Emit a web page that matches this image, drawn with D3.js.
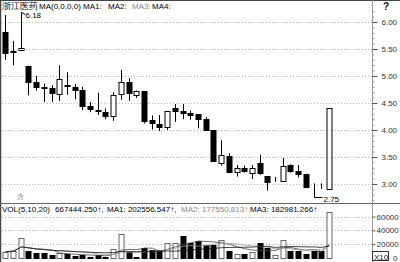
<!DOCTYPE html>
<html>
<head>
<meta charset="utf-8">
<script src="https://cdn.jsdelivr.net/npm/d3@7"></script>
<style>
  html, body { margin: 0; padding: 0; background: #fff; }
  svg { display: block; }
  text { font-family: "Liberation Sans", Arial, sans-serif; }
</style>
</head>
<body>
<script>
// daily prices
let opens  = [5.82, 5.47, 5.48, 5.19, 4.88, 4.80, 4.78, 4.66, 4.83, 4.79, 4.74, 4.44, 4.37, 4.34, 4.25, 4.66, 4.88, 4.66, 4.72, 4.19, 4.12, 4.06,
              4.40, 4.35, 4.32, 4.29, 4.20, 4.00, 3.40, 3.52, 3.22, 3.29, 3.20, 3.38, 3.15, 3.07, 3.06, 3.35, 3.25, 3.19, 2.96, 2.96, 2.90]
let highs  = [6.13, 5.65, 6.18, 5.19, 5.00, 4.86, 4.83, 5.20, 5.07, 4.85, 4.80, 4.52, 4.69, 4.40, 4.70, 5.11, 4.96, 4.73, 4.72, 4.27, 4.28, 4.35,
              4.48, 4.48, 4.36, 4.29, 4.24, 4.00, 3.81, 3.57, 3.35, 3.34, 3.35, 3.54, 3.15, 3.13, 3.48, 3.36, 3.35, 3.19, 3.01, 3.01, 4.40]
let lows   = [5.30, 5.20, 5.47, 4.64, 4.73, 4.52, 4.52, 4.54, 4.65, 4.57, 4.37, 4.33, 4.28, 4.20, 4.17, 4.56, 4.54, 4.59, 4.12, 4.01, 3.98, 4.00,
              4.15, 4.20, 4.19, 4.03, 4.00, 3.42, 3.34, 3.20, 3.14, 3.21, 3.09, 3.17, 2.88, 3.04, 3.06, 3.21, 3.12, 2.95, 2.75, 2.91, 2.90]
let closes = [5.44, 5.46, 5.51, 4.89, 4.79, 4.79, 4.68, 4.94, 4.82, 4.73, 4.44, 4.38, 4.36, 4.26, 4.64, 4.88, 4.68, 4.73, 4.17, 4.14, 4.07, 4.35,
              4.35, 4.31, 4.29, 4.20, 4.00, 3.42, 3.54, 3.23, 3.29, 3.24, 3.29, 3.19, 3.04, 3.07, 3.34, 3.23, 3.19, 2.95, 2.96, 2.96, 4.40]

// volume in axis units (x10)
let volumes = [9100, 10600, 28500, 10600, 6800, 6800, 4800, 6800, 5800, 2500, 4300, 1900, 4800, 1900, 13000, 34700, 8200, 1900, 14000, 12000, 12000, 21700,
               21700, 32200, 21700, 25000, 18800, 18800, 26500, 10600, 5800, 5800, 9100, 21700, 14000, 4000, 26500, 10000, 9600, 6000, 9500, 9400, 66744]
// 1 = hollow volume bar
let volUp = [1, 1, 1, 0, 0, 0, 0, 1, 0, 0, 0, 0, 0, 0, 1, 1, 0, 0, 0, 0, 0, 1,
             1, 0, 0, 0, 0, 0, 1, 0, 1, 0, 1, 0, 0, 1, 1, 0, 0, 0, 0, 0, 1]

let priceTicks = [3.0, 3.5, 4.0, 4.5, 5.0, 5.5, 6.0]
let volTicks = [20000, 40000, 60000]
let maPeriods = [5, 10, 20]
let maColors = ['#444', '#999', '#111']

let width = 400, height = 262
let axisX = 372

let svg = d3.select('body')
  .append('svg')
  .attr('width', width)
  .attr('height', height)

let x = d3.scalePoint()
  .domain(d3.range(opens.length))
  .range([5.3, 329])

let y = d3.scaleLinear()
  .domain([3, 6])
  .range([184, 22])

let yv = d3.scaleLinear()
  .domain([0, 60000])
  .range([258, 216.5])

function cx(i) { return Math.round(x(i)) + 0.5 }

// frame
svg.append('line').attr('x1', 0).attr('x2', width).attr('y1', 0.5).attr('y2', 0.5).attr('stroke', '#444')
svg.append('line').attr('x1', 0.5).attr('x2', 0.5).attr('y1', 0).attr('y2', height).attr('stroke', '#444').attr('stroke-width', 1.5)
svg.append('line').attr('x1', 0).attr('x2', width).attr('y1', 203.5).attr('y2', 203.5).attr('stroke', '#666')
svg.append('line').attr('x1', axisX + 0.5).attr('x2', axisX + 0.5).attr('y1', 0).attr('y2', height).attr('stroke', '#999')

// grid
svg.append('g')
  .selectAll('line')
  .data(priceTicks)
  .enter()
  .append('line')
  .attr('x1', 2).attr('x2', axisX)
  .attr('y1', d => Math.round(y(d)) + 0.5)
  .attr('y2', d => Math.round(y(d)) + 0.5)
  .attr('stroke', '#bbb')
  .attr('stroke-dasharray', '1,2')

svg.append('g')
  .selectAll('line')
  .data(volTicks)
  .enter()
  .append('line')
  .attr('x1', 2).attr('x2', axisX)
  .attr('y1', d => Math.round(yv(d)) + 0.5)
  .attr('y2', d => Math.round(yv(d)) + 0.5)
  .attr('stroke', '#bbb')
  .attr('stroke-dasharray', '1,2')

// price axis
let minor = d3.range(27, 63).map(d => d / 10)
svg.append('g')
  .attr('transform', 'translate(' + (axisX + 0.5) + ',0)')
  .call(d3.axisRight(y).tickValues(minor).tickSize(2).tickFormat(''))
  .call(g => g.select('.domain').remove())
  .selectAll('line').attr('stroke', '#999')

let pAxis = svg.append('g')
  .attr('transform', 'translate(' + (axisX + 0.5) + ',0)')
  .call(d3.axisRight(y).tickValues(priceTicks).tickSize(5).tickPadding(4).tickFormat(d3.format('.2f')))
pAxis.select('.domain').remove()
pAxis.selectAll('line').attr('stroke', '#555')
pAxis.selectAll('text').attr('font-size', 8).attr('fill', '#333').attr('font-family', '"Liberation Sans", Arial, sans-serif')

let vAxis = svg.append('g')
  .attr('transform', 'translate(' + (axisX + 0.5) + ',0)')
  .call(d3.axisRight(yv).tickValues(volTicks).tickSize(3).tickPadding(1).tickFormat(d3.format('d')))
vAxis.select('.domain').remove()
vAxis.selectAll('line').attr('stroke', '#555')
vAxis.selectAll('text').attr('font-size', 8).attr('fill', '#333').attr('font-family', '"Liberation Sans", Arial, sans-serif')

svg.append('rect').attr('x', 372.5).attr('y', 251.5).attr('width', 16).attr('height', 9).attr('fill', '#fff').attr('stroke', '#333')
svg.append('text').attr('x', 374).attr('y', 259.5).attr('font-size', 8).attr('fill', '#222').text('X10')
svg.append('text').attr('x', 393).attr('y', 261).attr('font-size', 8).attr('fill', '#333').text('0')
svg.append('text').attr('x', 383).attr('y', 10).attr('font-size', 10).attr('font-weight', 'bold').attr('fill', '#111').text('?')

// candles
let candles = svg.append('g').selectAll('g')
  .data(opens)
  .enter()
  .append('g')

candles.append('line')
  .attr('x1', (d, i) => cx(i)).attr('x2', (d, i) => cx(i))
  .attr('y1', (d, i) => y(highs[i])).attr('y2', (d, i) => y(lows[i]))
  .attr('stroke', '#000')

candles.append('rect')
  .attr('x', (d, i) => cx(i) - 2.5)
  .attr('width', 5)
  .attr('y', (d, i) => Math.round(y(Math.max(opens[i], closes[i]))) + 0.5)
  .attr('height', (d, i) => Math.max(0, Math.round(Math.abs(y(opens[i]) - y(closes[i])))))
  .attr('fill', (d, i) => closes[i] > opens[i] ? '#fff' : '#000')
  .attr('stroke', '#000')

// high / low marks
let hi = d3.maxIndex(highs), lo = d3.minIndex(lows)
svg.append('path')
  .attr('d', 'M' + cx(hi) + ',' + y(highs[hi]) + 'l4,2.5')
  .attr('stroke', '#000').attr('fill', 'none')
svg.append('text').attr('x', cx(hi) + 4).attr('y', y(highs[hi]) + 6).attr('font-size', 8).text(highs[hi].toFixed(2))
svg.append('path')
  .attr('d', 'M' + cx(lo) + ',' + y(lows[lo]) + 'h8')
  .attr('stroke', '#000').attr('fill', 'none')
svg.append('text').attr('x', cx(lo) + 9).attr('y', y(lows[lo]) + 4).attr('font-size', 8).text(lows[lo].toFixed(2))

// volume
svg.append('g').selectAll('rect')
  .data(volumes)
  .enter()
  .append('rect')
  .attr('x', (d, i) => cx(i) - 2.5)
  .attr('width', 5)
  .attr('y', d => Math.round(yv(d)) + 0.5)
  .attr('height', d => Math.round(yv(0) - yv(d)))
  .attr('fill', (d, i) => volUp[i] ? '#fff' : '#000')
  .attr('stroke', (d, i) => volUp[i] ? '#666' : '#000')

maPeriods.forEach((p, k) => {
  let ma = volumes.map((v, i) => d3.mean(volumes.slice(Math.max(0, i - p + 1), i + 1)))
  svg.append('path')
    .datum(ma)
    .attr('d', d3.line().x((d, i) => cx(i)).y(d => yv(d)))
    .attr('fill', 'none')
    .attr('stroke', maColors[k])
    .attr('stroke-width', 0.8)
})

// legends
svg.append('text').attr('x', 2).attr('y', 9).attr('font-size', 8.5)
  .attr('font-family', '"Noto Sans CJK SC", sans-serif').attr('fill', '#000').text('浙江医药')

let maLegend = [['MA(0,0,0,0)', 39, '#000'], ['MA1:', 83, '#000'], ['MA2:', 108, '#000'], ['MA3:', 132, '#888'], ['MA4:', 152, '#000']]
maLegend.forEach(t => {
  svg.append('text').attr('x', t[1]).attr('y', 9).attr('font-size', 8).attr('fill', t[2]).text(t[0])
})

let volLegend = [['VOL(5,10,20)', 2, '#000'], ['667444.250↑,', 55, '#000'], ['MA1: 202556.547↑,', 107, '#000'],
                 ['MA2: 177550.813↑,', 181, '#888'], ['MA3: 182981.266↑', 250, '#000']]
volLegend.forEach(t => {
  svg.append('text').attr('x', t[1]).attr('y', 212).attr('font-size', 8).attr('fill', t[2]).text(t[0])
})

svg.append('text').attr('x', 17).attr('y', 199).attr('font-size', 6.5)
  .attr('font-family', '"Noto Sans CJK SC", sans-serif').attr('fill', '#777').text('含')
</script>
</body>
</html>
